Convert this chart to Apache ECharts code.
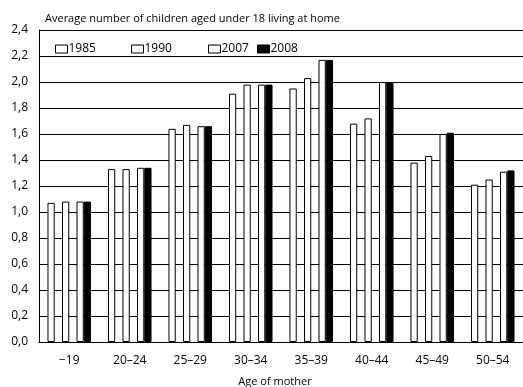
<!DOCTYPE html>
<html>
<head>
<meta charset="utf-8">
<script src="https://cdn.jsdelivr.net/npm/echarts@6/dist/echarts.min.js"></script>
<style>html,body{margin:0;padding:0;background:#fff}#c{width:523px;height:387px}</style>
</head>
<body>
<div id="c"></div>
<script>
const categories = ['\u221219', '20\u201324', '25\u201329', '30\u201334', '35\u201339', '40\u201344', '45\u201349', '50\u201354'];
const years = ['1985', '1990', '2007', '2008'];
const v1985 = [1.07, 1.33, 1.64, 1.91, 1.95, 1.68, 1.38, 1.21];
const v1990 = [1.08, 1.33, 1.67, 1.98, 2.03, 1.72, 1.43, 1.25];
const v2007 = [1.08, 1.34, 1.66, 1.98, 2.17, 2.00, 1.60, 1.31];
const v2008 = [1.08, 1.34, 1.66, 1.98, 2.17, 2.00, 1.61, 1.32];
const yTicks = [0, 0.2, 0.4, 0.6, 0.8, 1.0, 1.2, 1.4, 1.6, 1.8, 2.0, 2.2, 2.4];
const titleText = 'Average number of children aged under 18 living at home';
const xName = 'Age of mother';

const FONT = '"Open Sans", sans-serif';
const emptyData = categories.map(() => '-');

function barSeries(name, data, fill) {
  return {
    type: 'bar', name: name, data: data,
    barGap: '0%', barCategoryGap: '28%',
    itemStyle: { color: fill, borderColor: '#000', borderWidth: 1 },
    emphasis: { disabled: true }
  };
}
function gapSeries(name) {
  return { type: 'bar', name: name, data: emptyData, barGap: '0%', barCategoryGap: '28%', silent: true };
}
function legendAt(name, left) {
  return {
    data: [name], left: left, top: 38, itemWidth: 12, itemHeight: 8, icon: 'rect',
    selectedMode: false, itemGap: 2,
    itemStyle: { borderColor: '#000', borderWidth: 1 },
    textStyle: { fontFamily: FONT, fontSize: 12, color: '#000', padding: [0, 0, 0, -4] }
  };
}

const chart = echarts.init(document.getElementById('c'), null, { renderer: 'canvas' });
chart.setOption({
  animation: false,
  backgroundColor: '#fff',
  title: [
    { text: titleText, left: 40, top: 8, textStyle: { fontFamily: FONT, fontSize: 11, fontWeight: 'normal', color: '#000' } },
    { text: xName, left: 270, top: 371, textAlign: 'center', textStyle: { fontFamily: FONT, fontSize: 11, fontWeight: 'normal', color: '#000' } }
  ],
  legend: [legendAt(years[0], 50), legendAt(years[1], 126), legendAt(years[2], 203), legendAt(years[3], 252)],
  grid: { left: 39, right: -7, top: 30, bottom: 45, containLabel: false },
  xAxis: {
    type: 'category', data: categories,
    axisLine: { lineStyle: { color: '#000', width: 1 } },
    axisTick: { show: false },
    axisLabel: { fontFamily: FONT, fontSize: 12, color: '#000', margin: 13 }
  },
  yAxis: {
    type: 'value', min: yTicks[0], max: yTicks[yTicks.length - 1], interval: 0.2,
    axisLine: { show: true, lineStyle: { color: '#000', width: 1 } },
    axisTick: { show: false },
    splitLine: { lineStyle: { color: '#000', width: 1 } },
    axisLabel: { fontFamily: FONT, fontSize: 12, color: '#000', margin: 11,
      formatter: v => v.toFixed(1).replace('.', ',') }
  },
  series: [
    barSeries(years[0], v1985, '#fff'),
    gapSeries('gapA'),
    barSeries(years[1], v1990, '#fff'),
    gapSeries('gapB'),
    barSeries(years[2], v2007, '#fff'),
    barSeries(years[3], v2008, '#000')
  ]
});
</script>
</body>
</html>
